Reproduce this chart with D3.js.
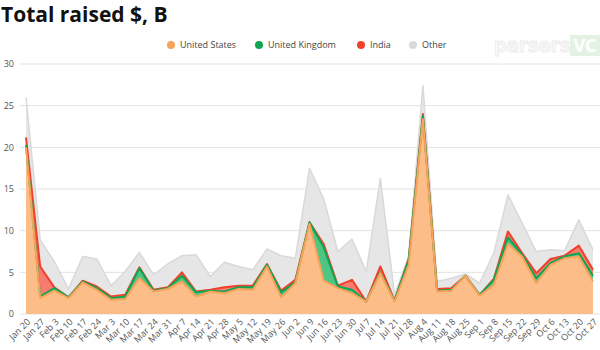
<!DOCTYPE html>
<html>
<head>
<meta charset="utf-8">
<script src="https://cdn.jsdelivr.net/npm/d3@7"></script>
<style>
  html, body { margin: 0; padding: 0; background: #fff; }
  svg { display: block; font-family: "Open Sans", "Noto Sans", sans-serif; }
</style>
</head>
<body>
<svg id="chart" width="600" height="350"></svg>
<script>
// Weekly totals raised, $B
const weeks = ["Jan 20","Jan 27","Feb 3","Feb 10","Feb 17","Feb 24","Mar 3","Mar 10","Mar 17","Mar 24",
  "Mar 31","Apr 7","Apr 14","Apr 21","Apr 28","May 5","May 12","May 19","May 26","Jun 2",
  "Jun 9","Jun 16","Jun 23","Jun 30","Jul 7","Jul 14","Jul 21","Jul 28","Aug 4","Aug 11",
  "Aug 18","Aug 25","Sep 1","Sep 8","Sep 15","Sep 22","Sep 29","Oct 6","Oct 13","Oct 20","Oct 27"];

const unitedStates = [20.0,1.9,2.8,1.9,3.8,2.9,1.7,1.8,4.3,2.7,3.0,3.9,2.1,2.7,2.5,3.0,2.9,5.7,2.0,3.7,
  10.8,4.0,3.1,2.5,1.5,4.9,1.5,5.9,23.4,2.7,2.8,4.6,2.2,3.5,8.4,6.9,3.7,5.9,6.7,6.9,3.9];
const unitedKingdom = [0.3,0.2,0.3,0.1,0.1,0.2,0.2,0.3,1.2,0.1,0.1,0.7,0.5,0.1,0.2,0.2,0.3,0.2,0.6,0.1,
  0.2,4.0,0.2,0.4,0.0,0.1,0.1,0.6,0.4,0.1,0.1,0.0,0.1,0.6,0.8,0.2,0.6,0.2,0.2,0.4,0.7];
const india = [0.9,3.6,0.1,0.0,0.1,0.2,0.2,0.2,0.1,0.1,0.1,0.4,0.1,0.1,0.5,0.2,0.2,0.1,0.2,0.3,
  0.0,0.4,0.1,1.2,0.0,0.7,0.0,0.1,0.2,0.2,0.2,0.0,0.0,0.1,0.7,0.2,0.6,0.5,0.1,0.9,0.7];
const other = [4.8,3.2,3.1,1.0,2.9,3.3,1.3,2.8,1.8,1.8,2.8,2.0,4.4,1.6,3.0,2.3,1.9,1.8,4.2,2.6,
  6.5,5.4,4.1,4.9,3.6,10.6,0.7,0.4,3.4,0.9,1.2,0.2,1.4,3.1,4.4,3.6,2.6,1.1,0.6,3.1,2.4];

const yTicks = [0, 5, 10, 15, 20, 25, 30];

const seriesKeys = ["United States", "United Kingdom", "India", "Other"];
const seriesStyle = {
  "United States":  { fill: "#fdbd88", stroke: "#f9a25a", dot: "#f9a25a" },
  "United Kingdom": { fill: "#4fc583", stroke: "#0fa552", dot: "#0fa552" },
  "India":          { fill: "#f97a6e", stroke: "#f0402c", dot: "#f0402c" },
  "Other":          { fill: "#e6e6e6", stroke: "#d9d9d9", dot: "#d9d9d9" }
};

const rows = weeks.map((w, i) => ({
  week: w,
  "United States": unitedStates[i],
  "United Kingdom": unitedKingdom[i],
  "India": india[i],
  "Other": other[i]
}));

const svg = d3.select("#chart");

const x = d3.scalePoint().domain(weeks).range([26, 593]);
const y = d3.scaleLinear().domain([0, 30]).range([314, 64]);

// Title
svg.append("text")
  .attr("x", 1).attr("y", 22)
  .attr("font-size", 21).attr("font-weight", 700)
  .attr("fill", "#111")
  .text("Total raised $, B");

// Watermark
const wm = svg.append("g").attr("opacity", 0.55);
wm.append("text")
  .attr("x", 532).attr("y", 52)
  .attr("text-anchor", "middle")
  .attr("font-size", 20).attr("font-weight", 700)
  .attr("font-family", "'Liberation Sans Narrow', 'DejaVu Sans Condensed', sans-serif")
  .attr("fill", "#f2f2f2").attr("stroke", "#dcdcdc").attr("stroke-width", 0.8)
  .text("parsers");
wm.append("rect")
  .attr("x", 570).attr("y", 35).attr("width", 30).attr("height", 21)
  .attr("fill", "#cfe9cf");
wm.append("text")
  .attr("x", 585).attr("y", 52)
  .attr("text-anchor", "middle")
  .attr("font-size", 18).attr("font-weight", 700)
  .attr("fill", "#fff")
  .text("VC");

// Grid lines and y labels
const grid = svg.append("g");
grid.selectAll("line").data(yTicks).join("line")
  .attr("x1", 20).attr("x2", 600)
  .attr("y1", d => y(d)).attr("y2", d => y(d))
  .attr("stroke", "#e3e3e3").attr("stroke-width", 1);

const yAxis = d3.axisLeft(y).tickValues(yTicks).tickSize(0).tickPadding(0);
svg.append("g")
  .attr("transform", "translate(14,0)")
  .call(yAxis)
  .call(g => g.select(".domain").remove())
  .call(g => g.selectAll("text")
    .attr("font-size", 9).attr("fill", "#555")
    .attr("font-family", "'Open Sans', sans-serif"));

// Stacked areas
const stack = d3.stack().keys(seriesKeys);
const layers = stack(rows);

const area = d3.area()
  .x(d => x(d.data.week))
  .y0(d => y(d[0]))
  .y1(d => y(d[1]))
  .curve(d3.curveLinear);

const topLine = d3.line()
  .x(d => x(d.data.week))
  .y(d => y(d[1]))
  .curve(d3.curveLinear);

const layerG = svg.append("g");
// draw back-to-front so the top layers sit behind the lower ones' edges
layers.slice().reverse().forEach(layer => {
  const st = seriesStyle[layer.key];
  layerG.append("path")
    .datum(layer)
    .attr("d", area)
    .attr("fill", st.fill);
});
layers.slice().reverse().forEach(layer => {
  const st = seriesStyle[layer.key];
  layerG.append("path")
    .datum(layer)
    .attr("d", topLine)
    .attr("fill", "none")
    .attr("stroke", st.stroke)
    .attr("stroke-width", layer.key === "Other" ? 1.5 : 2)
    .attr("stroke-linejoin", "round");
});

// X axis labels
const xAxis = d3.axisBottom(x).tickSize(0).tickPadding(0);
svg.append("g")
  .attr("transform", "translate(0,318)")
  .call(xAxis)
  .call(g => g.select(".domain").remove())
  .call(g => g.selectAll("text")
    .attr("font-size", 9).attr("fill", "#555")
    .attr("font-family", "'Open Sans', sans-serif")
    .attr("text-anchor", "end")
    .attr("dy", "0.7em")
    .attr("transform", "rotate(-45)"));

// Legend
const legendItems = [
  { key: "United States", cx: 171 },
  { key: "United Kingdom", cx: 259 },
  { key: "India", cx: 361 },
  { key: "Other", cx: 413 }
];
const legend = svg.append("g");
legendItems.forEach(it => {
  legend.append("circle")
    .attr("cx", it.cx).attr("cy", 45).attr("r", 4)
    .attr("fill", seriesStyle[it.key].dot);
  legend.append("text")
    .attr("x", it.cx + 9).attr("y", 48)
    .attr("font-size", 9).attr("fill", "#444")
    .text(it.key);
});
</script>
</body>
</html>
